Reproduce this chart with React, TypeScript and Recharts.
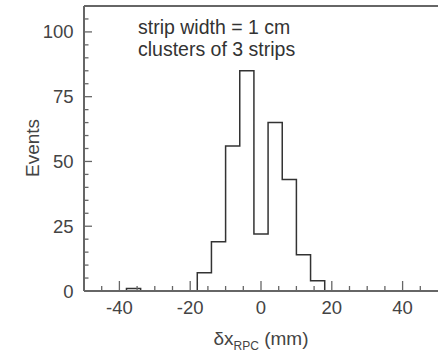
import { LineChart, Line, XAxis, YAxis, ReferenceLine } from 'recharts';

// histogram: 4 mm bins from -50 to 50 mm
const BIN_START = -50;
const BIN_WIDTH = 4;
const counts = [0, 0, 0, 1, 0, 0, 0, 0, 7, 19, 56, 85, 22, 65, 43, 14, 4, 0, 0, 0, 0, 0, 0, 0, 0];

const xTicks = [-45, -40, -35, -30, -25, -20, -15, -10, -5, 0, 5, 10, 15, 20, 25, 30, 35, 40, 45];
const yTicks = [0, 5, 10, 15, 20, 25, 30, 35, 40, 45, 50, 55, 60, 65, 70, 75, 80, 85, 90, 95, 100, 105];
const noteLines = ['strip width = 1 cm', 'clusters of 3 strips'];

const FONT = '"Liberation Sans", Arial, sans-serif';
const AXIS = '#666';
const TEXT = '#444';

// step outline of the histogram, broken where the counts are empty
const outline: { x: number; y: number | null }[] = [];
counts.forEach((c, i) => {
  if (c === 0) return;
  const lo = BIN_START + i * BIN_WIDTH;
  const hi = lo + BIN_WIDTH;
  if (i === 0 || counts[i - 1] === 0) outline.push({ x: lo, y: 0 });
  outline.push({ x: lo, y: c });
  if (i === counts.length - 1 || counts[i + 1] === 0) {
    outline.push({ x: hi, y: 0 });
    outline.push({ x: hi, y: null });
  }
});

// eslint-disable-next-line @typescript-eslint/no-explicit-any
const XTick = ({ x, y, payload }: any) => {
  const major = payload.value % 20 === 0;
  return (
    <g>
      <line x1={x} x2={x} y1={y} y2={y - (major ? 10 : 5)} stroke={AXIS} strokeWidth={1.3} />
      {major && (
        <text x={x} y={y + 23} textAnchor="middle" fontSize={18.5} fill={TEXT} fontFamily={FONT}>
          {payload.value}
        </text>
      )}
    </g>
  );
};

// eslint-disable-next-line @typescript-eslint/no-explicit-any
const YTick = ({ x, y, payload }: any) => {
  const major = payload.value % 25 === 0;
  return (
    <g>
      <line x1={x} x2={x + (major ? 8 : 4.5)} y1={y} y2={y} stroke={AXIS} strokeWidth={1.3} />
      {major && (
        <text x={x - 10.5} y={y + 6.5} textAnchor="end" fontSize={18.5} fill={TEXT} fontFamily={FONT}>
          {payload.value}
        </text>
      )}
    </g>
  );
};

export default function App() {
  return (
    <div style={{ position: 'absolute', left: 0, top: 0 }}>
      <LineChart width={438} height={352} data={outline} margin={{ top: 6, right: 0, bottom: 0, left: 0 }}>
        <XAxis
          dataKey="x"
          type="number"
          domain={[-50, 50]}
          ticks={xTicks}
          interval={0}
          height={61}
          tickSize={0}
          tickMargin={0}
          tickLine={false}
          tick={<XTick />}
          axisLine={{ stroke: AXIS, strokeWidth: 2 }}
          label={{
            content: () => (
              <text x={261} y={345} textAnchor="middle" fontSize={19} fill={TEXT} fontFamily={FONT}>
                <tspan>δx</tspan>
                <tspan fontSize={12} dy={4.5}>RPC</tspan>
                <tspan dy={-4.5}> (mm)</tspan>
              </text>
            ),
          }}
        />
        <YAxis
          type="number"
          domain={[0, 110]}
          ticks={yTicks}
          interval={0}
          width={84}
          tickSize={0}
          tickMargin={0}
          tickLine={false}
          tick={<YTick />}
          axisLine={{ stroke: AXIS, strokeWidth: 2 }}
          label={{
            content: () => (
              <text
                x={0}
                y={0}
                transform="translate(39 148) rotate(-90)"
                textAnchor="middle"
                fontSize={19}
                fill={TEXT}
                fontFamily={FONT}
              >
                Events
              </text>
            ),
          }}
        />
        <ReferenceLine
          y={110}
          stroke={AXIS}
          strokeWidth={2}
          label={{
            // eslint-disable-next-line @typescript-eslint/no-explicit-any
            content: (p: any) => (
              <text x={p.viewBox.x + 54} y={p.viewBox.y + 28} fontSize={19.5} fill="#333" fontFamily={FONT}>
                {noteLines.map((t, i) => (
                  <tspan key={t} x={p.viewBox.x + 54} dy={i === 0 ? 0 : 22}>
                    {t}
                  </tspan>
                ))}
              </text>
            ),
          }}
        />
        <Line
          dataKey="y"
          type="stepAfter"
          stroke="#333"
          strokeWidth={1.5}
          dot={false}
          activeDot={false}
          connectNulls={false}
          isAnimationActive={false}
        />
      </LineChart>
    </div>
  );
}
